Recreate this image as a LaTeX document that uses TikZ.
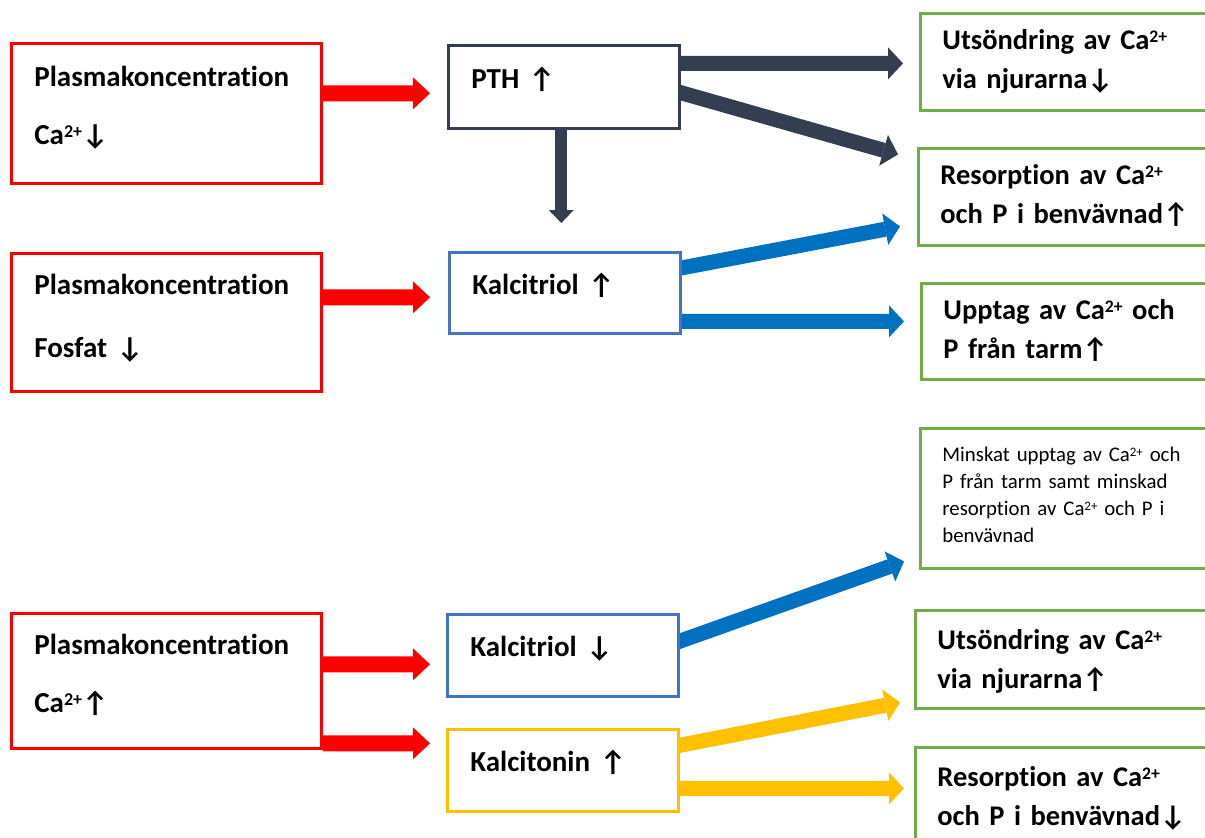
\documentclass[tikz,border=0pt]{standalone}
\usepackage{fontspec}
\setmainfont{Carlito}[Ligatures=NoCommon]
\usetikzlibrary{arrows.meta,calc,backgrounds}
\definecolor{boxred}{HTML}{FF0000}
\definecolor{slate}{HTML}{333F50}
\definecolor{flowblue}{HTML}{0070C0}
\definecolor{boxblue}{HTML}{4472C4}
\definecolor{amber}{HTML}{FFC000}
\definecolor{leafgreen}{HTML}{70AD47}
\newcommand{\pilupp}{↑}
\newcommand{\pilned}{↓}
\newcommand{\catwo}{Ca\raisebox{0.25em}{\scalebox{0.62}{2+}}}

\begin{document}
\begin{tikzpicture}[
  x=1pt,y=-1pt,
  box/.style={draw, fill=white, anchor=north west, align=left, inner ysep=0pt},
  causebox/.style={box, draw=boxred, line width=2.8pt, inner xsep=23pt, text width=264pt,
    font=\fontsize{29}{58}\selectfont\bfseries},
  hormonebox/.style={box, line width=2.6pt, inner xsep=23pt, text width=185pt,
    font=\fontsize{29}{34}\selectfont\bfseries},
  effectbox/.style={box, draw=leafgreen, line width=2.8pt, inner xsep=22pt, text width=256pt,
    font=\fontsize{28.5}{39.5}\selectfont\bfseries},
  flow/.style={line width=15pt, -{Triangle[width=32pt,length=15pt,line width=0pt]}},
  redflow/.style={draw=boxred, line width=16pt, -{Triangle[width=32pt,length=17pt,line width=0pt]}}
]
\path[use as bounding box] (0,0) rectangle (1205,838);
\clip (0,0) rectangle (1205,838);
\begin{scope}[on background layer]
  \fill[white] (0,0) rectangle (1205,838);
\end{scope}

% Plasma levels
\node[causebox, text height=43pt, text depth=97pt] (caLow) at (10,42)
  {Plasmakoncentration\\ \catwo\pilned};
\node[causebox, text height=41pt, text depth=97pt] (phLow) at (10,252)
  {Plasmakoncentration\\[5pt] Fosfat \pilned};
\node[causebox, text height=41pt, text depth=94pt] (caHigh) at (10,612)
  {Plasmakoncentration\\ \catwo\pilupp};

% Hormones
\node[hormonebox, draw=slate, text height=43pt, text depth=40pt] (pth) at (447,44)
  {PTH \pilupp};
\node[hormonebox, draw=boxblue, text height=42pt, text depth=39pt] (calUp) at (448,251)
  {Kalcitriol \pilupp};
\node[hormonebox, draw=boxblue, text height=42pt, text depth=40pt] (calDown) at (446,613)
  {Kalcitriol \pilned};
\node[hormonebox, draw=amber, text height=42pt, text depth=40pt] (tonin) at (446,728)
  {Kalcitonin \pilupp};

% Effects
\node[effectbox, text height=36pt, text depth=61pt] (renalLow) at (919,12)
  {Utsöndring av \catwo\\ via njurarna\pilned};
\node[effectbox, text height=36pt, text depth=61pt] (boneUp) at (917,147)
  {Resorption av \catwo\\ och P i benvävnad\pilupp};
\node[effectbox, text height=36pt, text depth=60pt] (gutUp) at (920,282)
  {Upptag av \catwo{} och\\ P från tarm\pilupp};
\node[effectbox, font=\fontsize{20.8}{27}\selectfont, text height=33pt, text depth=107pt]
  (lessUptake) at (919,427)
  {Minskat upptag av \catwo{} och\\ P från tarm samt minskad\\
   resorption av \catwo{} och P i\\ benvävnad};
\node[effectbox, text height=39pt, text depth=59pt] (renalHigh) at (914,609)
  {Utsöndring av \catwo\\ via njurarna\pilupp};
\node[effectbox, text height=39pt, text depth=61pt] (boneLow) at (914,746)
  {Resorption av \catwo\\ och P i benvävnad\pilned};

% Arrows, kept behind the boxes
\begin{scope}[on background layer]
  \draw[redflow] ($(caLow.east)+(0,-20)$) -- ($(pth.west)+(-17,6.5)$);
  \draw[redflow] ($(phLow.east)+(0,-25)$) -- ($(calUp.west)+(-18,4.5)$);
  \draw[redflow] ($(caHigh.east)+(0,-16.5)$) -- ($(calDown.west)+(-16,9)$);
  \draw[redflow] ($(caHigh.east)+(0,62.5)$) -- ($(tonin.west)+(-16,-27)$);

  \draw[draw=slate, line width=12pt, -{Triangle[width=25pt,length=13pt,line width=0pt]}]
    ($(pth.south)+(-2.5,0)$) -- ($(calUp.north)+(-3.5,-28)$);
  \draw[flow, draw=slate] ($(pth.east)+(0,-23.5)$) -- ($(renalLow.west)+(-16,1.5)$);
  \draw[flow, draw=slate] ($(pth.east)+(-10,3)$) -- ($(boneUp.west)+(-19,-42.5)$);

  \draw[flow, draw=flowblue] ($(calUp.east)+(-12,-22.6)$) -- ($(boneUp.west)+(-17,29.5)$);
  \draw[flow, draw=flowblue] ($(calUp.east)+(0,28.5)$) -- ($(gutUp.west)+(-16,-10)$);
  \draw[flow, draw=flowblue] ($(calDown.east)+(-10,-10.5)$) -- ($(lessUptake.west)+(-15,63)$);

  \draw[flow, draw=amber] ($(tonin.east)+(-10,-23)$) -- ($(renalHigh.west)+(-14,43)$);
  \draw[flow, draw=amber] ($(tonin.east)+(0,18)$) -- ($(boneLow.west)+(-10,-9)$);
\end{scope}

\end{tikzpicture}
\end{document}
